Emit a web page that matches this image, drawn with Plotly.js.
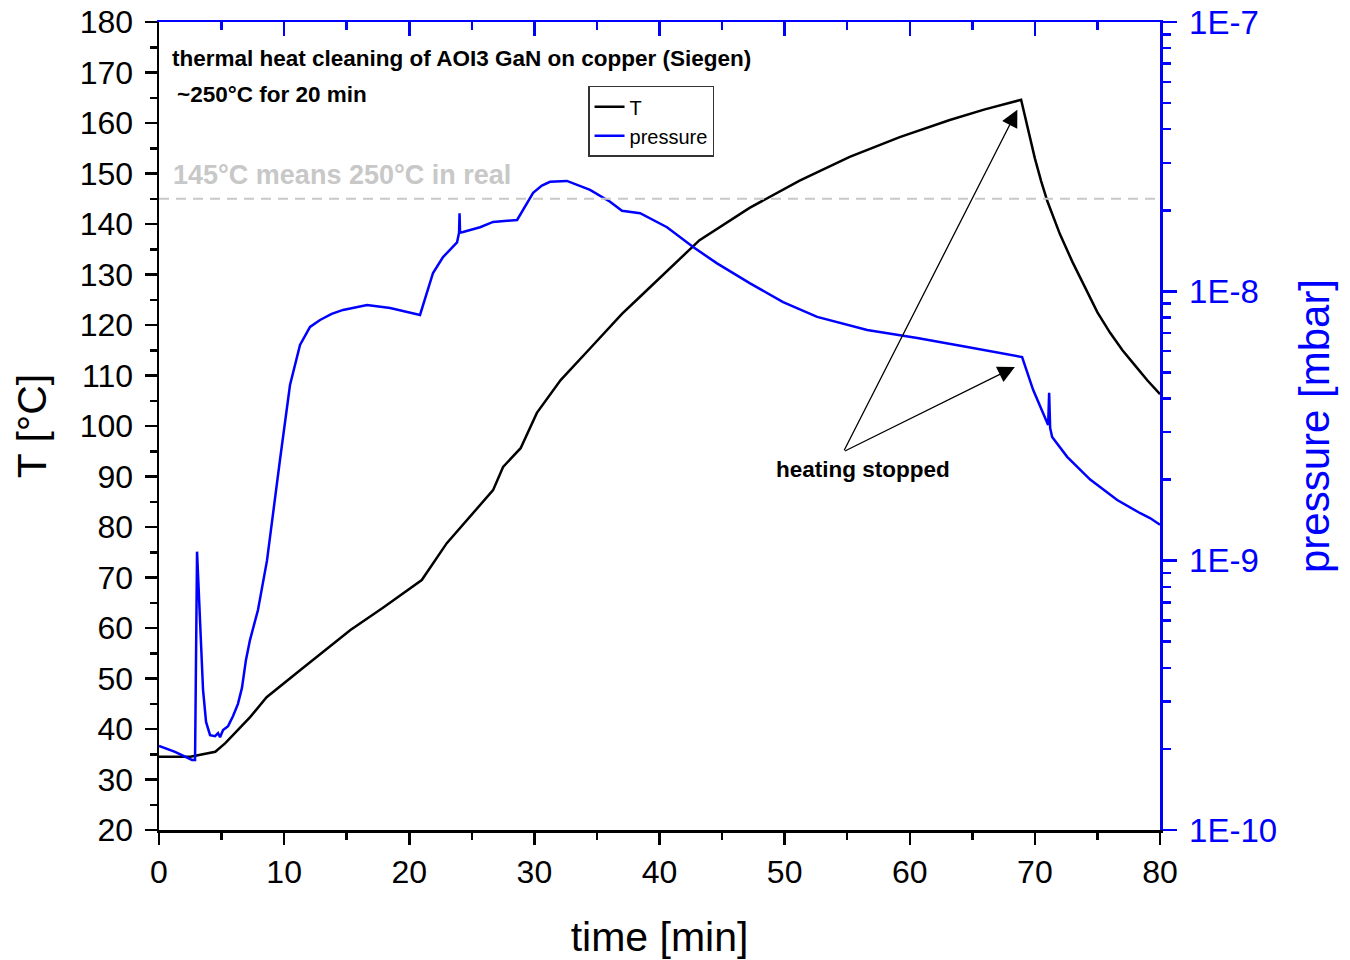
<!DOCTYPE html>
<html>
<head>
<meta charset="utf-8">
<script src="https://cdn.plot.ly/plotly-3.0.1.min.js"></script>
<style>html,body{margin:0;padding:0;background:#fff;}#chart{width:1350px;height:960px;}</style>
</head>
<body>
<div id="chart"></div>
<script>
// Temperature series (left axis, °C)
const tempTime = [0, 2.5, 4.5, 5.3, 7.3, 8.6, 11.3, 15.3, 17.9, 21.0, 23.0, 26.7, 27.5, 28.9, 30.2, 32.1, 34.5, 37.0, 38.4, 40.0, 43.2, 47.2, 51.2, 55.2, 59.2, 63.2, 66.0, 68.9, 69.5, 70.0, 70.5, 71.0, 72.0, 73.0, 74.0, 75.0, 76.0, 77.0, 78.0, 79.0, 80.0];
const tempValues = [34.5, 34.5, 35.5, 37.2, 42.4, 46.3, 51.7, 59.6, 64.0, 69.5, 76.8, 87.3, 91.9, 95.6, 102.6, 109.1, 115.5, 122.2, 125.5, 129.3, 136.8, 143.2, 148.6, 153.3, 157.2, 160.6, 162.7, 164.6, 158, 153, 148.5, 144.5, 138, 132.5, 127.5, 122.5, 118.5, 115, 112, 109, 106.3];

// Pressure series (right axis, mbar, log)
const presTime = [0, 1.28, 2.64, 2.88, 3.04, 3.2, 3.36, 3.52, 3.76, 4.08, 4.48, 4.72, 4.88, 5.12, 5.52, 5.92, 6.31, 6.63, 6.95, 7.27, 7.91, 8.63, 9.67, 10.47, 11.27, 12.07, 12.87, 13.8, 14.71, 16.63, 18.47, 20.86, 21.9, 22.7, 23.82, 23.98, 24.02, 24.06, 24.3, 25.66, 26.7, 28.62, 29.9, 30.6, 31.25, 32.6, 34.45, 36.05, 37.0, 38.45, 40.6, 42.69, 44.6, 47.24, 49.88, 52.6, 56.6, 60.6, 64.6, 68.8, 68.98, 69.86, 71.06, 71.14, 71.22, 71.38, 72.58, 74.42, 76.58, 78.42, 79.2, 80];
const presValues = [2.05e-10, 1.95e-10, 1.82e-10, 1.82e-10, 1.08e-9, 7.14e-10, 5.07e-10, 3.31e-10, 2.52e-10, 2.25e-10, 2.23e-10, 2.29e-10, 2.21e-10, 2.35e-10, 2.43e-10, 2.65e-10, 2.94e-10, 3.37e-10, 4.28e-10, 5.07e-10, 6.56e-10, 1.00e-9, 2.37e-9, 4.49e-9, 6.32e-9, 7.38e-9, 7.83e-9, 8.25e-9, 8.53e-9, 8.89e-9, 8.67e-9, 8.17e-9, 1.17e-8, 1.34e-8, 1.52e-8, 1.65e-8, 1.95e-8, 1.65e-8, 1.66e-8, 1.73e-8, 1.81e-8, 1.84e-8, 2.32e-8, 2.47e-8, 2.55e-8, 2.57e-8, 2.38e-8, 2.15e-8, 1.99e-8, 1.95e-8, 1.73e-8, 1.46e-8, 1.27e-8, 1.07e-8, 9.12e-9, 8.04e-9, 7.18e-9, 6.71e-9, 6.21e-9, 5.70e-9, 5.70e-9, 4.31e-9, 3.19e-9, 4.20e-9, 3.11e-9, 2.88e-9, 2.43e-9, 2.00e-9, 1.68e-9, 1.50e-9, 1.44e-9, 1.36e-9];

// Reference line
const refTime = [0, 80];
const refTemp = [145, 145];

// Axis ticks
const xTicks = [0, 10, 20, 30, 40, 50, 60, 70, 80];
const yTicks = [20, 30, 40, 50, 60, 70, 80, 90, 100, 110, 120, 130, 140, 150, 160, 170, 180];
const pTickVals = [1e-10, 1e-9, 1e-8, 1e-7];
const pTickText = ['1E-10', '1E-9', '1E-8', '1E-7'];
const pMinorVals = [];
[1e-10, 1e-9, 1e-8].forEach(d => { for (let k = 2; k <= 9; k++) pMinorVals.push(k * d); });

const FONT = 'Liberation Sans, Arial, sans-serif';
const BLUE = '#0000ff';

const traces = [
  {x: refTime, y: refTemp, xaxis: 'x2', yaxis: 'y', mode: 'lines', showlegend: false,
   line: {color: '#c8c8c8', width: 2.2, dash: '10px,7px'}, hoverinfo: 'skip'},
  {x: tempTime, y: tempValues, xaxis: 'x', yaxis: 'y', mode: 'lines', name: 'T',
   line: {color: '#000000', width: 2.5}},
  {x: presTime, y: presValues, xaxis: 'x', yaxis: 'y2', mode: 'lines', name: 'pressure',
   line: {color: BLUE, width: 2.5}}
];

const layout = {
  width: 1350, height: 960,
  margin: {l: 159, r: 190, t: 22, b: 130},
  paper_bgcolor: '#fff', plot_bgcolor: '#fff',
  font: {family: FONT, color: '#000'},
  showlegend: true,
  legend: {x: 0.4286, y: 0.921, xanchor: 'left', yanchor: 'top',
    bgcolor: '#fff', bordercolor: '#333', borderwidth: 1.5,
    font: {size: 20, family: FONT}, tracegroupgap: 0, itemwidth: 30},
  xaxis: {range: [0, 80], tickvals: xTicks, ticks: 'outside', ticklen: 12, tickwidth: 2.5,
    tickcolor: '#000', showline: true, linecolor: '#000', linewidth: 2.5, showgrid: false, zeroline: false,
    tickfont: {size: 32, family: FONT}, anchor: 'y',
    minor: {dtick: 5, tick0: 0, ticks: 'outside', ticklen: 7, tickwidth: 2.5, tickcolor: '#000', showgrid: false},
    title: {text: 'time [min]', font: {size: 41, family: FONT}, standoff: 36}},
  xaxis2: {range: [0, 80], overlaying: 'x', side: 'top', anchor: 'y', tickvals: xTicks,
    ticks: 'inside', ticklen: 14, tickwidth: 2.5, tickcolor: BLUE, showticklabels: false,
    showline: true, linecolor: BLUE, linewidth: 2.5, showgrid: false, zeroline: false,
    minor: {dtick: 5, tick0: 0, ticks: 'inside', ticklen: 8, tickwidth: 2.5, tickcolor: BLUE, showgrid: false}},
  yaxis: {range: [20, 180], tickvals: yTicks, ticks: 'outside', ticklen: 12, tickwidth: 2.5,
    tickcolor: '#000', showline: true, linecolor: '#000', linewidth: 2.5, showgrid: false, zeroline: false,
    tickfont: {size: 32, family: FONT}, anchor: 'x', ticklabelstandoff: 5,
    minor: {dtick: 5, tick0: 0, ticks: 'outside', ticklen: 7, tickwidth: 2.5, tickcolor: '#000', showgrid: false},
    title: {text: 'T [°C]', font: {size: 41, family: FONT}, standoff: 21}},
  yaxis2: {type: 'log', range: [-10, -7], overlaying: 'y', side: 'right', anchor: 'x',
    tickmode: 'array', tickvals: pTickVals, ticktext: pTickText,
    ticks: 'outside', ticklen: 14, tickwidth: 2.5, tickcolor: BLUE, ticklabelstandoff: 6,
    showline: true, linecolor: BLUE, linewidth: 2.5, showgrid: false, zeroline: false,
    tickfont: {size: 33, family: FONT, color: BLUE},
    minor: {tickmode: 'array', tickvals: pMinorVals, ticks: 'outside', ticklen: 8, tickwidth: 2.5, tickcolor: BLUE, showgrid: false},
    title: {text: 'pressure [mbar]', font: {size: 42, family: FONT, color: BLUE}, standoff: 24}},
  annotations: [
    {xref: 'paper', yref: 'paper', x: 0.011, y: 0.955, xanchor: 'left', yanchor: 'middle', showarrow: false,
     text: '<b>thermal heat cleaning of AOI3 GaN on copper (Siegen)</b>', font: {size: 22.5, family: FONT, color: '#000'}},
    {xref: 'paper', yref: 'paper', x: 0.016, y: 0.9105, xanchor: 'left', yanchor: 'middle', showarrow: false,
     text: '<b>~250°C for 20 min</b>', font: {size: 22.5, family: FONT, color: '#000'}},
    {xref: 'paper', yref: 'paper', x: 0.012, y: 0.811, xanchor: 'left', yanchor: 'middle', showarrow: false,
     text: '<b>145°C means 250°C in real</b>', font: {size: 27, family: FONT, color: '#c8c8c8'}},
    {xref: 'x', yref: 'y', x: 56.3, y: 91.3, xanchor: 'center', yanchor: 'middle', showarrow: false,
     text: '<b>heating stopped</b>', font: {size: 22.5, family: FONT, color: '#000'}},
    {xref: 'x', yref: 'y', x: 68.6, y: 162.6, axref: 'x', ayref: 'y', ax: 54.7, ay: 94.9,
     text: '', showarrow: true, arrowhead: 2, arrowsize: 2.6, arrowwidth: 1.3, arrowcolor: '#000'},
    {xref: 'x', yref: 'y', x: 68.4, y: 111.7, axref: 'x', ayref: 'y', ax: 54.7, ay: 94.9,
     text: '', showarrow: true, arrowhead: 2, arrowsize: 2.6, arrowwidth: 1.3, arrowcolor: '#000'}
  ]
};

Plotly.newPlot('chart', traces, layout, {displayModeBar: false, staticPlot: true});
</script>
</body>
</html>
